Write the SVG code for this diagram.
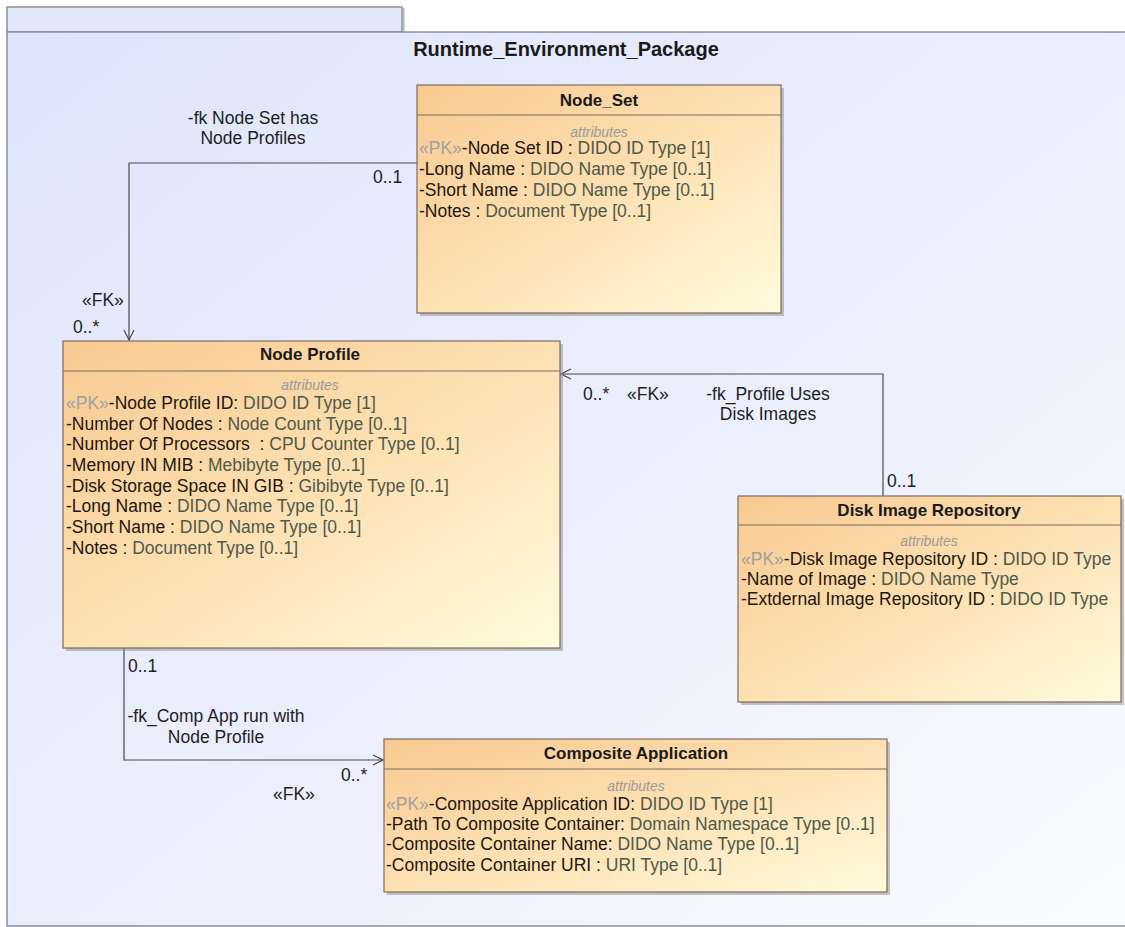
<svg xmlns="http://www.w3.org/2000/svg" width="1125" height="927" viewBox="0 0 1125 927">
<defs>
<linearGradient id="pkg" x1="0" y1="0" x2="1" y2="1">
<stop offset="0" stop-color="#dfe5fb"/>
<stop offset="0.6" stop-color="#edf0fd"/>
<stop offset="1" stop-color="#fbfcff"/>
</linearGradient>
<linearGradient id="cls" x1="0" y1="0" x2="1" y2="1">
<stop offset="0" stop-color="#f8c990"/>
<stop offset="0.55" stop-color="#fde3b6"/>
<stop offset="1" stop-color="#fffbdc"/>
</linearGradient>
<marker id="arr" viewBox="0 0 12 12" refX="11" refY="6" markerWidth="12" markerHeight="12" markerUnits="userSpaceOnUse" orient="auto">
<path d="M1,1 L11,6 L1,11" fill="none" stroke="#4a4a4a" stroke-width="1.2"/>
</marker>
</defs>
<style>
.box{fill:url(#cls);stroke:#7a6c60;stroke-width:1.2}
.sh{fill:#9a948e;opacity:0.55}
.div{stroke:#7a6c60;stroke-width:1.2}
.t{font-family:"Liberation Sans",Arial,sans-serif;font-size:17.5px;fill:#22160e}
.h{font-family:"Liberation Sans",Arial,sans-serif;font-size:17px;font-weight:bold;fill:#1a1a1a;text-anchor:middle}
.at{font-family:"Liberation Sans",Arial,sans-serif;font-size:14px;font-style:italic;fill:#9a9a9a;text-anchor:middle}
.pk{fill:#a0a0a0}
.ty{fill:#4e5a4a}
.lb{font-family:"Liberation Sans",Arial,sans-serif;font-size:17.5px;fill:#1e1e1e}
.c{fill:none;stroke:#4a4a4a;stroke-width:1.2}
</style>
<rect width="1125" height="927" fill="#ffffff"/>
<g id="package">
<rect x="7" y="7" width="395" height="25" fill="#e2e7fa" stroke="#8a8f9a" stroke-width="1.5"/>
<line x1="403.5" y1="8" x2="403.5" y2="32" stroke="#b0b4bc" stroke-width="2"/>
<rect x="7" y="32" width="1130" height="894" fill="url(#pkg)" stroke="#8a8f9a" stroke-width="1.5"/>
<text x="566" y="56" font-family="Liberation Sans,Arial,sans-serif" font-size="20" font-weight="bold" fill="#1a1a1a" text-anchor="middle">Runtime_Environment_Package</text>
</g>
<g id="connectors">
<polyline class="c" points="417,163 129,163 129,340" marker-end="url(#arr)"/>
<polyline class="c" points="883,496 883,374 561,374" marker-end="url(#arr)"/>
<polyline class="c" points="124,648 124,760 383,760" marker-end="url(#arr)"/>
<text class="lb" x="253" y="124" text-anchor="middle">-fk Node Set has</text>
<text class="lb" x="253" y="144" text-anchor="middle">Node Profiles</text>
<text class="lb" x="373" y="183">0..1</text>
<text class="lb" x="82" y="306">«FK»</text>
<text class="lb" x="73" y="333">0..*</text>
<text class="lb" x="583" y="400">0..*</text>
<text class="lb" x="627" y="400">«FK»</text>
<text class="lb" x="768" y="400" text-anchor="middle">-fk_Profile Uses</text>
<text class="lb" x="768" y="420" text-anchor="middle">Disk Images</text>
<text class="lb" x="887" y="487">0..1</text>
<text class="lb" x="128" y="672">0..1</text>
<text class="lb" x="216" y="722" text-anchor="middle">-fk_Comp App run with</text>
<text class="lb" x="216" y="743" text-anchor="middle">Node Profile</text>
<text class="lb" x="341" y="781">0..*</text>
<text class="lb" x="273" y="800">«FK»</text>
</g>
<g id="node_set">
<rect class="sh" x="420" y="88" width="364" height="228"/>
<rect class="box" x="417" y="85" width="364" height="228"/>
<line class="div" x1="417" y1="115" x2="781" y2="115"/>
<text class="h" x="599" y="106">Node_Set</text>
<text class="at" x="599" y="137">attributes</text>
<text class="t" x="419" y="154"><tspan class="pk">«PK»</tspan>-Node Set ID : <tspan class="ty">DIDO ID Type [1]</tspan></text>
<text class="t" x="419" y="175">-Long Name : <tspan class="ty">DIDO Name Type [0..1]</tspan></text>
<text class="t" x="419" y="196">-Short Name : <tspan class="ty">DIDO Name Type [0..1]</tspan></text>
<text class="t" x="419" y="217">-Notes : <tspan class="ty">Document Type [0..1]</tspan></text>
</g>
<g id="node_profile">
<rect class="sh" x="66" y="344" width="497" height="307"/>
<rect class="box" x="63" y="341" width="497" height="307"/>
<line class="div" x1="63" y1="371" x2="560" y2="371"/>
<text class="h" x="310" y="360">Node Profile</text>
<text class="at" x="310" y="390">attributes</text>
<text class="t" x="66" y="409"><tspan class="pk">«PK»</tspan>-Node Profile ID: <tspan class="ty">DIDO ID Type [1]</tspan></text>
<text class="t" x="66" y="430">-Number Of Nodes : <tspan class="ty">Node Count Type [0..1]</tspan></text>
<text class="t" x="66" y="450">-Number Of Processors &#160;: <tspan class="ty">CPU Counter Type [0..1]</tspan></text>
<text class="t" x="66" y="471">-Memory IN MIB : <tspan class="ty">Mebibyte Type [0..1]</tspan></text>
<text class="t" x="66" y="492">-Disk Storage Space IN GIB : <tspan class="ty">Gibibyte Type [0..1]</tspan></text>
<text class="t" x="66" y="512">-Long Name : <tspan class="ty">DIDO Name Type [0..1]</tspan></text>
<text class="t" x="66" y="533">-Short Name : <tspan class="ty">DIDO Name Type [0..1]</tspan></text>
<text class="t" x="66" y="554">-Notes : <tspan class="ty">Document Type [0..1]</tspan></text>
</g>
<g id="disk_image_repository">
<rect class="sh" x="741" y="499" width="383" height="206"/>
<rect class="box" x="738" y="496" width="383" height="206"/>
<line class="div" x1="738" y1="525" x2="1121" y2="525"/>
<text class="h" x="929" y="516">Disk Image Repository</text>
<text class="at" x="929" y="546">attributes</text>
<text class="t" x="741" y="565"><tspan class="pk">«PK»</tspan>-Disk Image Repository ID : <tspan class="ty">DIDO ID Type</tspan></text>
<text class="t" x="741" y="585">-Name of Image : <tspan class="ty">DIDO Name Type</tspan></text>
<text class="t" x="741" y="605">-Extdernal Image Repository ID : <tspan class="ty">DIDO ID Type</tspan></text>
</g>
<g id="composite_application">
<rect class="sh" x="387" y="742" width="503" height="153"/>
<rect class="box" x="384" y="739" width="503" height="153"/>
<line class="div" x1="384" y1="769" x2="887" y2="769"/>
<text class="h" x="636" y="759">Composite Application</text>
<text class="at" x="636" y="791">attributes</text>
<text class="t" x="386" y="810"><tspan class="pk">«PK»</tspan>-Composite Application ID: <tspan class="ty">DIDO ID Type [1]</tspan></text>
<text class="t" x="386" y="830">-Path To Composite Container: <tspan class="ty">Domain Namespace Type [0..1]</tspan></text>
<text class="t" x="386" y="850">-Composite Container Name: <tspan class="ty">DIDO Name Type [0..1]</tspan></text>
<text class="t" x="386" y="871">-Composite Container URI : <tspan class="ty">URI Type [0..1]</tspan></text>
</g>
</svg>
